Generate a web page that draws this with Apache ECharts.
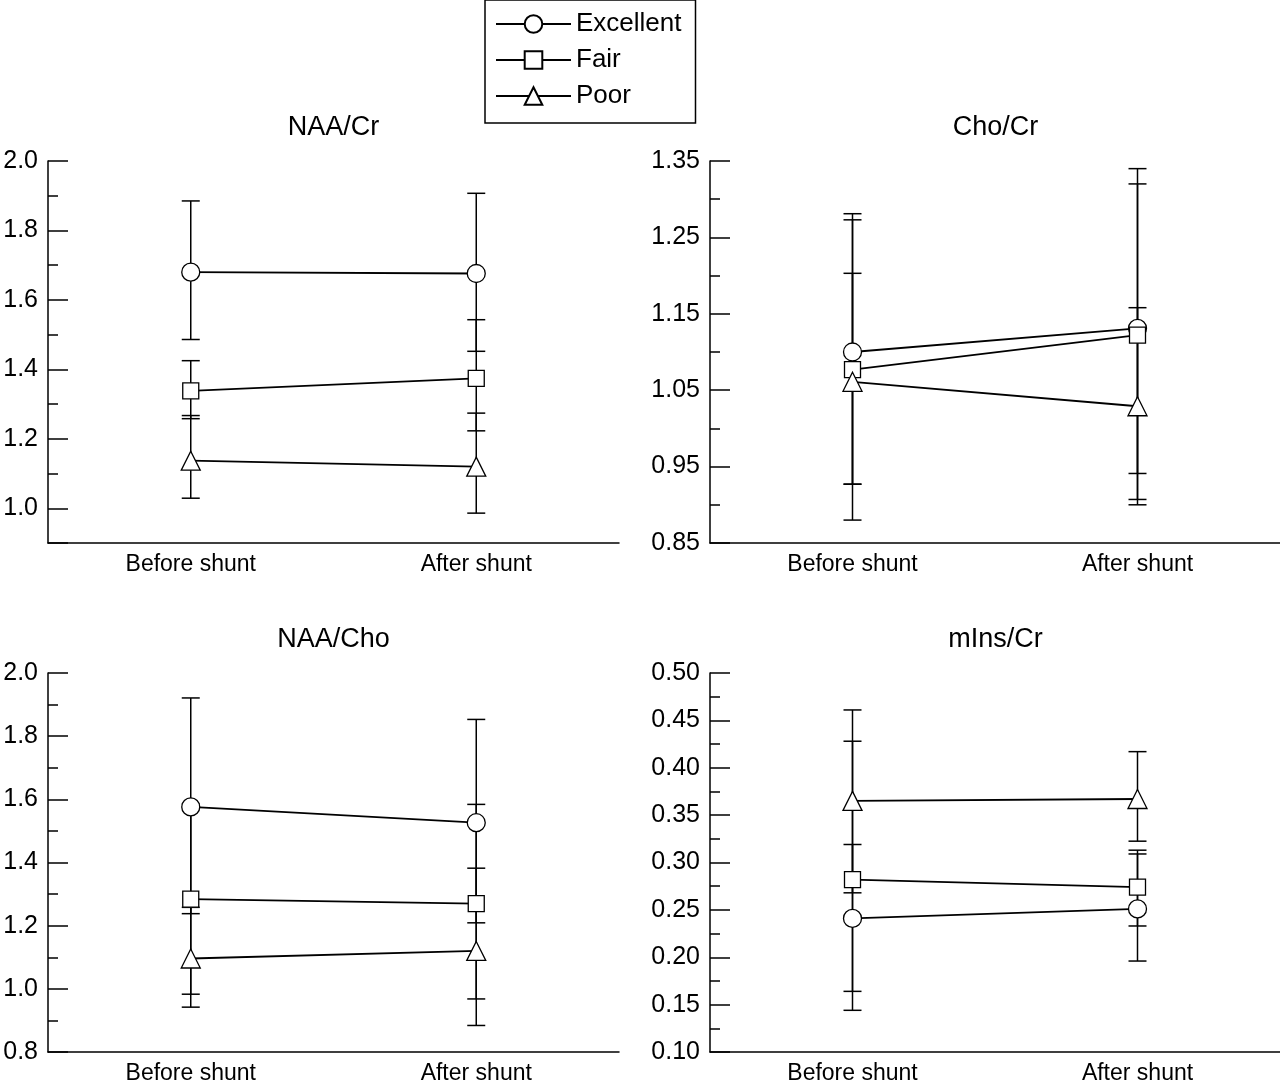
<!DOCTYPE html>
<html><head><meta charset="utf-8">
<script src="https://cdn.jsdelivr.net/npm/echarts@6/dist/echarts.min.js"></script>
<style>html,body{margin:0;padding:0;background:#fff}#c{width:1280px;height:1085px}</style>
</head><body><div id="c"></div>
<script>
// ---- data ----
const categories = ['Before shunt', 'After shunt'];
const groups = ['Excellent', 'Fair', 'Poor'];
const panelTitles = ['NAA/Cr', 'Cho/Cr', 'NAA/Cho', 'mIns/Cr'];

// rows: Excellent, Fair, Poor ; columns: Before, After
const naaCrMean = [[1.680, 1.676], [1.338, 1.374], [1.137, 1.120]];
const naaCrLow  = [[1.486, 1.452], [1.258, 1.223], [1.029, 0.986]];
const naaCrHigh = [[1.885, 1.907], [1.425, 1.543], [1.267, 1.274]];

const choCrMean = [[1.100, 1.131], [1.077, 1.122], [1.061, 1.029]];
const choCrLow  = [[0.927, 0.907], [0.880, 0.941], [0.927, 0.900]];
const choCrHigh = [[1.281, 1.340], [1.273, 1.320], [1.203, 1.158]];

const naaChoMean = [[1.576, 1.526], [1.284, 1.270], [1.096, 1.120]];
const naaChoLow  = [[1.238, 1.209], [0.983, 0.968], [0.942, 0.884]];
const naaChoHigh = [[1.921, 1.853], [1.585, 1.584], [1.258, 1.382]];

const mInsCrMean = [[0.241, 0.251], [0.282, 0.274], [0.365, 0.367]];
const mInsCrLow  = [[0.164, 0.196], [0.144, 0.233], [0.268, 0.3225]];
const mInsCrHigh = [[0.319, 0.309], [0.428, 0.313], [0.461, 0.417]];

// y-axis tick settings per panel
const yMins = [0.9, 0.85, 0.8, 0.10];
const yMaxs = [2.0, 1.35, 2.0, 0.50];
const yIntervals = [null, 0.1, 0.2, 0.05];
const yDecimals = [1, 2, 1, 2];

const means = [naaCrMean, choCrMean, naaChoMean, mInsCrMean];
const lows = [naaCrLow, choCrLow, naaChoLow, mInsCrLow];
const highs = [naaCrHigh, choCrHigh, naaChoHigh, mInsCrHigh];

// ---- layout / style ----
const FONT = '"Liberation Sans", Arial, sans-serif';
const gridBoxes = [
  {left: 48, top: 161, width: 571, height: 382},
  {left: 710, top: 161, width: 571, height: 382},
  {left: 48, top: 673, width: 571, height: 382},
  {left: 710, top: 673, width: 571, height: 382}
];
const symbolShapes = ['circle', 'rect', 'triangle'];
const symbolSizes = [18, 16, 19];

const chart = echarts.init(document.getElementById('c'), null, {renderer: 'canvas'});

const xAxes = [], yAxes = [], series = [], graphics = [];
gridBoxes.forEach((g, i) => {
  xAxes.push({
    type: 'category', gridIndex: i, data: categories, boundaryGap: true,
    axisLine: {lineStyle: {color: '#000', width: 1.5}},
    axisTick: {inside: true, alignWithLabel: true, length: 20, lineStyle: {color: '#000', width: 1.5}},
    axisLabel: {color: '#000', fontSize: 23, fontFamily: FONT, margin: 10},
    splitLine: {show: false}
  });
  const ya = {
    type: 'value', gridIndex: i, min: yMins[i], max: yMaxs[i],
    axisLine: {show: true, lineStyle: {color: '#000', width: 1.5}},
    axisTick: {show: true, inside: true, length: 20, lineStyle: {color: '#000', width: 1.5}},
    minorTick: {show: true, splitNumber: 2, length: 10, lineStyle: {color: '#000', width: 1.5}},
    splitLine: {show: false},
    axisLabel: {
      color: '#000', fontSize: 25, fontFamily: FONT, margin: 10,
      formatter: (v) => (v < yMins[i] + 1e-9 && i === 0) ? '' : v.toFixed(yDecimals[i])
    }
  };
  if (yIntervals[i] != null) ya.interval = yIntervals[i];
  else ya.splitNumber = 5;
  yAxes.push(ya);

  graphics.push({
    type: 'text', x: g.left + g.width / 2, y: g.top - 33, z: 10,
    style: {text: panelTitles[i], font: '27px ' + FONT, fill: '#000', align: 'center', verticalAlign: 'middle'}
  });

  groups.forEach((name, k) => {
    // error bars
    series.push({
      type: 'custom', name: name + ' SD', xAxisIndex: i, yAxisIndex: i, z: 1,
      data: categories.map((c, j) => [j, lows[i][k][j], highs[i][k][j]]),
      encode: {x: 0, y: [1, 2]},
      renderItem: function (params, api) {
        const x = api.value(0);
        const pLo = api.coord([x, api.value(1)]);
        const pHi = api.coord([x, api.value(2)]);
        const w = 9;
        const st = {stroke: '#000', lineWidth: 1.5};
        return {type: 'group', children: [
          {type: 'line', shape: {x1: pLo[0], y1: pLo[1], x2: pHi[0], y2: pHi[1]}, style: st},
          {type: 'line', shape: {x1: pLo[0] - w, y1: pLo[1], x2: pLo[0] + w, y2: pLo[1]}, style: st},
          {type: 'line', shape: {x1: pHi[0] - w, y1: pHi[1], x2: pHi[0] + w, y2: pHi[1]}, style: st}
        ]};
      }
    });
  });
});

gridBoxes.forEach((g, i) => {
  groups.forEach((name, k) => {
    series.push({
      type: 'line', name: name, xAxisIndex: i, yAxisIndex: i, z: 3,
      data: means[i][k],
      symbol: symbolShapes[k], symbolSize: symbolSizes[k], showAllSymbol: true,
      lineStyle: {color: '#000', width: 1.8},
      itemStyle: {color: '#fff', borderColor: '#000', borderWidth: 1.3}
    });
  });
});

chart.setOption({
  animation: false,
  backgroundColor: '#fff',
  grid: gridBoxes.map(g => Object.assign({containLabel: false}, g)),
  xAxis: xAxes,
  yAxis: yAxes,
  legend: {
    data: groups, left: 485, top: 0, orient: 'vertical', selectedMode: false,
    itemWidth: 75, itemHeight: 22, itemGap: 10,
    padding: [11, 14, 14, 10],
    borderColor: '#000', borderWidth: 1.5,
    textStyle: {color: '#000', fontSize: 26, fontFamily: FONT, lineHeight: 26}
  },
  graphic: graphics,
  series: series
});
</script>
</body></html>
